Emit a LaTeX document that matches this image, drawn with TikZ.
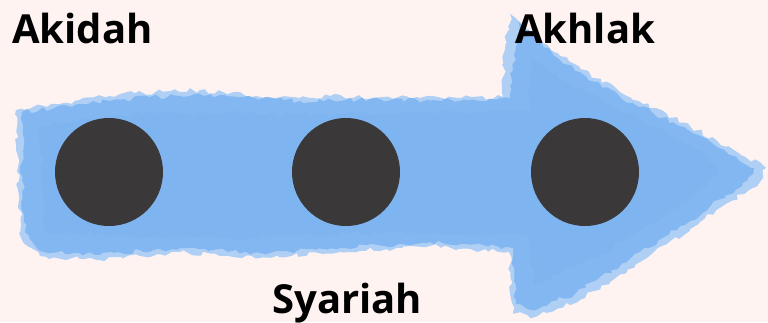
\documentclass[tikz,border=0pt]{standalone}
\usepackage{fontspec}
\setmainfont{Open Sans}
\usetikzlibrary{decorations.pathmorphing}
\definecolor{bg}{HTML}{FFF3F2}
\definecolor{blueA}{HTML}{AFD0F4}
\definecolor{blueB}{HTML}{82B7F1}
\definecolor{blueC}{HTML}{74ACEE}
\definecolor{dot}{HTML}{3A3839}
\tikzset{
  rough/.style={decorate,decoration={random steps,segment length=5pt,amplitude=2.5pt}},
  dotnode/.style={circle,fill=dot,minimum size=108pt,inner sep=0pt},
  lbl/.style={font=\bfseries\fontsize{40}{40}\selectfont,text=black,inner sep=0pt}
}
\begin{document}
\begin{tikzpicture}[x=1pt,y=-1pt]
\pgfmathsetseed{7}
\fill[bg] (0,0) rectangle (768,322);
\useasboundingbox (0,0) rectangle (768,322);
% outer light wash
\fill[blueA,rough] (16,110) -- (60,104) -- (120,94) -- (200,90) -- (260,97) -- (330,96) -- (420,98) -- (503,97) -- (505,50) -- (510,14) -- (522,24) -- (560,56) -- (620,92) -- (690,126) -- (766,168) -- (760,182) -- (700,222) -- (640,262) -- (580,300) -- (530,318) -- (513,312) -- (509,252) -- (430,246) -- (340,252) -- (260,258) -- (180,252) -- (100,260) -- (40,256) -- (22,240) -- (18,190) -- cycle;
% main wash
\fill[blueB,rough] (22,112) -- (80,104) -- (150,97) -- (220,95) -- (300,101) -- (380,99) -- (460,101) -- (510,99) -- (514,55) -- (518,22) -- (560,60) -- (620,97) -- (690,131) -- (754,168) -- (748,180) -- (690,221) -- (630,259) -- (575,294) -- (530,310) -- (516,304) -- (513,248) -- (430,242) -- (340,248) -- (260,253) -- (180,248) -- (100,255) -- (40,251) -- (25,232) -- (22,180) -- cycle;
% inner deeper wash
\fill[blueC,opacity=0.25,rough] (40,125) -- (150,112) -- (300,115) -- (460,112) -- (530,110) -- (530,60) -- (600,100) -- (700,150) -- (720,172) -- (690,200) -- (600,255) -- (535,285) -- (528,235) -- (400,232) -- (250,238) -- (120,236) -- (45,232) -- cycle;
\node[dotnode] (c1) at (109,172) {};
\node[dotnode] (c2) at (346,172) {};
\node[dotnode] (c3) at (585,172) {};
\node[lbl,anchor=base west] (akidah) at (12,43) {Akidah};
\node[lbl,anchor=base west] (akhlak) at (515,43) {Akhlak};
\node[lbl,anchor=base west] (syariah) at (272,313) {Syariah};
\end{tikzpicture}
\end{document}
